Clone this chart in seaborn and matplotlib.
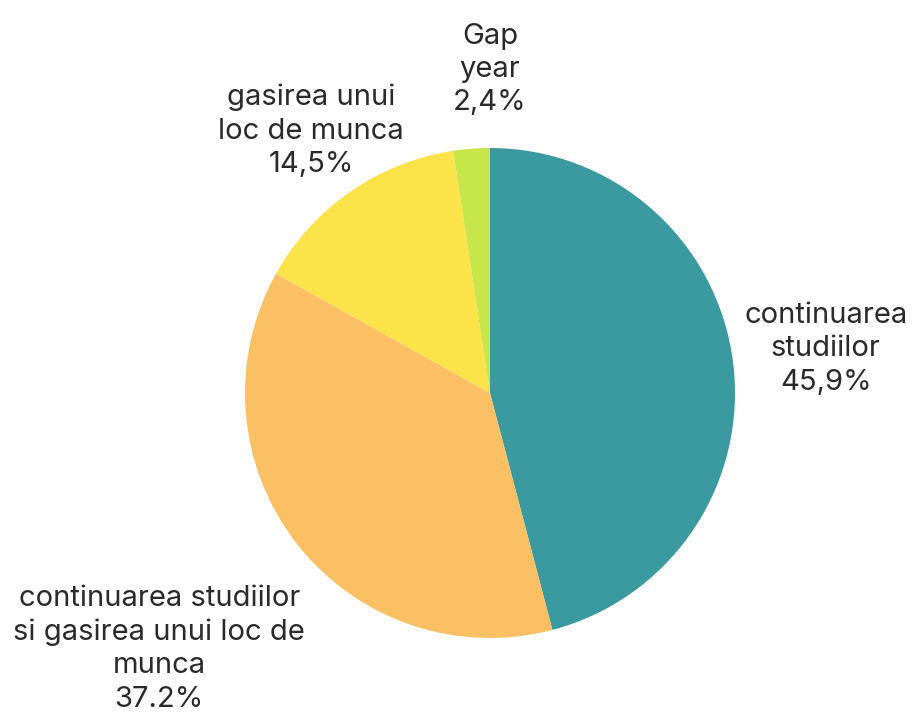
import matplotlib
matplotlib.use('Agg')
import matplotlib.pyplot as plt
import seaborn as sns

# data
categories = ['continuarea\nstudiilor', 'continuarea studiilor\nsi gasirea unui loc de\nmunca',
              'gasirea unui\nloc de munca', 'Gap\nyear']
values = [45.9, 37.2, 14.5, 2.4]
value_labels = ['45,9%', '37.2%', '14,5%', '2,4%']

colors = ['#3A9AA0', '#FBC064', '#FDE34A', '#C6E64A']

sns.set_theme(style='white')
plt.rcParams['font.family'] = ['Inter', 'DejaVu Sans']

fig = plt.figure(figsize=(9.16, 7.17), dpi=100)
ax = fig.add_axes([245 / 916, 79 / 717, 490 / 916, 490 / 717])

ax.pie(values, colors=colors, startangle=90, counterclock=False, radius=1,
       wedgeprops=dict(linewidth=0))
ax.set_xlim(-1, 1)
ax.set_ylim(-1, 1)
ax.set_aspect('equal')

# label positions (data units, radius = 1)
label_pos = [(1.37, 0.18), (-1.35, -1.045), (-0.73, 1.07), (0.0, 1.32)]
for cat, vl, (x, y) in zip(categories, value_labels, label_pos):
    ax.text(x, y, f'{cat}\n{vl}', ha='center', va='center', fontsize=21,
            color='#2b2b2b', linespacing=1.3, clip_on=False)

fig.savefig('out.png', dpi=100, facecolor='white')
